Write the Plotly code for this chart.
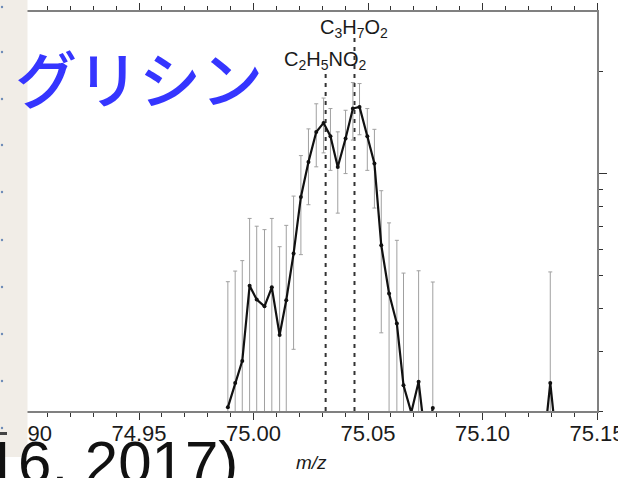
import plotly.graph_objects as go

# Measured spectrum around m/z 75 (counts, with 1-sigma errors)
mz_main = [74.9888, 74.9920, 74.9951, 74.9983, 75.0014, 75.0048, 75.0080, 75.0114,
           75.0143, 75.0175, 75.0207, 75.0240, 75.0274, 75.0306, 75.0336, 75.0368,
           75.0402, 75.0434, 75.0463, 75.0497, 75.0528, 75.0558, 75.0592, 75.0626,
           75.0655, 75.0689, 75.0721, 75.0753, 75.0783]
counts_main = [2.05, 2.42, 2.81, 4.68, 4.26, 4.07, 4.63, 3.35,
               4.24, 5.82, 8.55, 10.84, 13.29, 14.13, 12.91, 10.48,
               12.71, 15.58, 15.75, 12.91, 10.73, 6.16, 4.44, 3.62,
               2.38, 1.98, 2.44, 1.60, 2.04]
err_main = [2.76, 2.75, 2.74, 2.71, 2.75, 2.78, 2.76, 2.75,
            2.81, 2.78, 2.77, 2.73, 2.80, 2.60, 2.67, 2.82,
            2.69, 3.00, 2.71, 2.67, 2.80, 2.76, 2.73, 2.75,
            2.72, 0.0, 2.74, 0.0, 2.76]

mz_spike = [75.1264, 75.1296, 75.1328]
counts_spike = [1.50, 2.42, 1.50]
err_spike = [0.0, 2.72, 0.0]

# Candidate ion formulas and their exact masses
formula_labels = ["C<sub>2</sub>H<sub>5</sub>NO<sub>2</sub>", "C<sub>3</sub>H<sub>7</sub>O<sub>2</sub>"]
formula_mz = [75.0315, 75.0441]

W, H = 618, 478
M_L, M_R, M_T, M_B = 0, 21, 12, 67
PW, PH = W - M_L - M_R, H - M_T - M_B


def px_x(p):
    """Pixel column -> paper x."""
    return (p - M_L) / PW


def px_y(p):
    """Pixel row -> paper y."""
    return 1 - (p - M_T) / PH


fig = go.Figure()

for xs, ys, es in [(mz_main, counts_main, err_main), (mz_spike, counts_spike, err_spike)]:
    fig.add_trace(go.Scatter(
        x=xs, y=ys, mode="lines+markers",
        line=dict(color="#111111", width=2.2),
        marker=dict(color="#111111", size=4),
        error_y=dict(type="data", array=es, visible=True,
                     color="#a0a0a0", thickness=1, width=2),
        showlegend=False, hoverinfo="skip",
    ))

# Dashed markers for the candidate formulas, with labels above
label_row = [61, 28]
line_top_row = [74, 38]
for lab, m, lr, lt in zip(formula_labels, formula_mz, label_row, line_top_row):
    fig.add_shape(type="line", xref="x", yref="paper", x0=m, x1=m, y0=0, y1=px_y(lt),
                  line=dict(color="#333333", width=2, dash="4px,5px"), layer="below")
    fig.add_annotation(x=m, y=px_y(lr), xref="x", yref="paper", text=lab, showarrow=False,
                       xanchor="center", yanchor="middle",
                       font=dict(family="Liberation Sans, Arial", size=20, color="#1a1a1a"))

# x-axis title
fig.add_annotation(x=px_x(311), y=px_y(462), xref="paper", yref="paper",
                   text="<i>m/z</i>", showarrow=False, xanchor="center", yanchor="middle",
                   font=dict(family="Liberation Sans, Arial", size=19, color="#1a1a1a"))

# Left margin strip of the page, with its small marks
fig.add_shape(type="rect", xref="paper", yref="paper", x0=px_x(-5), x1=px_x(27.5),
              y0=px_y(457), y1=px_y(-5),
              fillcolor="#f1ede7", line=dict(width=0), layer="above")
for row in [7, 52, 99, 145, 192, 240, 287, 334, 381, 428]:
    fig.add_shape(type="circle", xref="paper", yref="paper",
                  x0=px_x(0.8), x1=px_x(3.2), y0=px_y(row + 1.2), y1=px_y(row - 1.2),
                  fillcolor="#6f8cb8", line=dict(width=0), layer="above")
fig.add_shape(type="rect", xref="paper", yref="paper", x0=px_x(-1), x1=px_x(7),
              y0=px_y(435), y1=px_y(432),
              fillcolor="#444444", line=dict(width=0), layer="above")

fig.add_annotation(x=px_x(139), y=px_y(77), xref="paper", yref="paper",
                   text="グリシン", showarrow=False, xanchor="center", yanchor="middle",
                   font=dict(family="Noto Sans CJK JP", size=62, color="#3535ff", weight=500))

fig.add_annotation(x=px_x(240), y=px_y(462), xref="paper", yref="paper",
                   text="2016, 2017)", showarrow=False, xanchor="right", yanchor="middle",
                   font=dict(family="Liberation Sans, Arial", size=60, color="#111111"))

fig.update_layout(
    width=W, height=H,
    margin=dict(l=M_L, r=M_R, t=M_T, b=M_B, autoexpand=False),
    paper_bgcolor="white", plot_bgcolor="white",
    xaxis=dict(
        range=[74.8893, 75.15], showgrid=False, zeroline=False, automargin=False,
        showline=True, linecolor="#808080", linewidth=1.5, mirror="ticks",
        ticks="outside", ticklen=7, tickwidth=1, tickcolor="#333333",
        tickmode="linear", tick0=75.0, dtick=0.05, tickformat=".2f",
        ticklabeloverflow="allow", ticklabelstandoff=-5,
        minor=dict(ticks="outside", ticklen=4, tickwidth=1, tickcolor="#333333", dtick=0.01),
        tickfont=dict(family="Liberation Sans, Arial", size=22, color="#1a1a1a"),
    ),
    yaxis=dict(
        type="log", range=[0.30103, 1.47712], side="right", automargin=False,
        showgrid=False, zeroline=False, showline=True, linecolor="#808080", linewidth=2,
        ticks="outside", ticklen=8, tickwidth=1, tickcolor="#333333",
        tickmode="array", tickvals=[10], showticklabels=False,
        minor=dict(ticks="outside", ticklen=4, tickwidth=1, tickcolor="#333333",
                   tickmode="array", tickvals=[2, 3, 4, 5, 6, 7, 8, 9, 20]),
    ),
)

fig.write_html("out.html")
